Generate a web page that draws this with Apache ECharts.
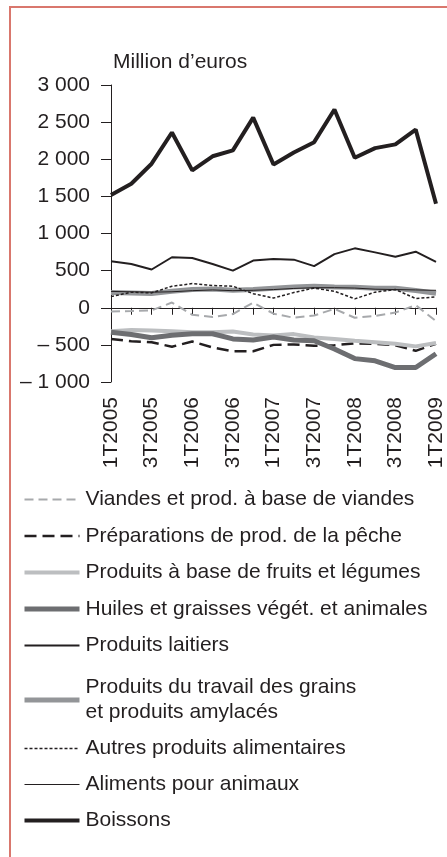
<!DOCTYPE html>
<html>
<head>
<meta charset="utf-8">
<script src="https://cdn.jsdelivr.net/npm/echarts@6/dist/echarts.min.js"></script>
<style>
html,body{margin:0;padding:0;background:#fff;}
#c{width:447px;height:857px;}
</style>
</head>
<body>
<div id="c"></div>
<script>
var categories = ['1T2005','2T2005','3T2005','4T2005','1T2006','2T2006','3T2006','4T2006','1T2007','2T2007','3T2007','4T2007','1T2008','2T2008','3T2008','4T2008','1T2009'];
var viandes = [-50,-45,-35,70,-95,-125,-85,70,-80,-135,-105,-15,-135,-110,-65,35,-180];
var peche = [-420,-450,-465,-525,-455,-535,-585,-585,-500,-495,-512,-505,-480,-485,-505,-580,-485];
var fruits = [-315,-300,-305,-315,-330,-330,-320,-360,-375,-355,-400,-420,-445,-465,-485,-520,-475];
var huiles = [-330,-360,-405,-370,-350,-350,-420,-435,-395,-435,-445,-555,-685,-715,-805,-805,-620];
var laitiers = [625,590,515,680,670,590,500,635,655,648,560,722,800,746,686,755,617];
var grains = [205,200,192,222,245,254,237,245,263,281,290,281,277,263,263,232,195];
var autres = [150,210,200,290,325,300,290,190,130,205,265,222,120,210,245,125,145];
var aliments = [220,215,210,215,230,240,230,235,245,260,270,270,265,250,245,240,235];
var boissons = [1520,1670,1940,2360,1850,2040,2120,2560,1930,2090,2230,2670,2020,2150,2200,2400,1400];
var seriesNames = ['Viandes et prod. à base de viandes','Préparations de prod. de la pêche','Produits à base de fruits et légumes','Huiles et graisses végét. et animales','Produits laitiers','Produits du travail des grains\net produits amylacés','Autres produits alimentaires','Aliments pour animaux','Boissons'];
var yMin = -1000, yMax = 3000, yStep = 500;

var BLACK = '#231f20';
var FONT = 'Liberation Sans, Arial, sans-serif';
function fmt(v){
  var a = Math.abs(v), s = String(a);
  if (a >= 1000) s = Math.floor(a/1000) + ' ' + String(a%1000).padStart(3,'0');
  return v < 0 ? '\u2013 ' + s : s;
}
var styles = [
  {color:'#a7a9ac', width:2, type:[9,5]},
  {color:BLACK, width:2.5, type:[12,6]},
  {color:'#bcbec0', width:4, type:'solid'},
  {color:'#6d6e71', width:5, type:'solid'},
  {color:BLACK, width:2, type:'solid'},
  {color:'#939598', width:5, type:'solid'},
  {color:BLACK, width:1.5, type:[3,2]},
  {color:BLACK, width:1, type:'solid'},
  {color:BLACK, width:4, type:'solid'}
];
var datas = [viandes, peche, fruits, huiles, laitiers, grains, autres, aliments, boissons];
var series = datas.map(function(d,i){
  return {
    name: seriesNames[i], type:'line', data:d, symbol:'none', xAxisIndex:0, yAxisIndex:0,
    lineStyle:{color:styles[i].color, width:styles[i].width, type:styles[i].type},
    itemStyle:{color:styles[i].color}, animation:false, z: 2+i
  };
});
function legendItems(from, to){
  var out = [];
  for (var i = from; i < to; i++) {
    out.push({name:seriesNames[i],
      itemStyle:{opacity:0, borderWidth:0, color:'rgba(0,0,0,0)'},
      lineStyle:{color:styles[i].color, width:styles[i].width, type:styles[i].type, opacity:1}});
  }
  return out;
}
var legendText = {fontSize:21, color:BLACK, fontFamily:FONT, lineHeight:25, padding:[0,0,0,1]};
var chart = echarts.init(document.getElementById('c'), null, {renderer:'canvas'});
chart.setOption({
  backgroundColor:'#fff',
  animation:false,
  graphic:[{type:'rect', shape:{x:10,y:7,width:480,height:900}, style:{fill:null, stroke:'#d9776d', lineWidth:2}, silent:true}],
  title:{text:'Million d\u2019euros', left:108, top:47, textStyle:{fontSize:21, fontWeight:'normal', color:BLACK, fontFamily:FONT}},
  grid:{left:111, right:11, top:85, bottom:475, containLabel:false},
  legend:[
    {data:legendItems(0,5), orient:'vertical', left:17, top:482, itemWidth:55, itemHeight:14, itemGap:11.5, textStyle:legendText, selectedMode:false},
    {data:legendItems(5,9), orient:'vertical', left:17, top:670, itemWidth:55, itemHeight:14, itemGap:11, textStyle:legendText, selectedMode:false}
  ],
  xAxis:[
    {type:'category', data:categories, boundaryGap:false,
     axisLine:{onZero:true, lineStyle:{color:BLACK, width:1}},
     axisTick:{show:true, interval:0, length:7, lineStyle:{color:BLACK}},
     axisLabel:{show:false}, splitLine:{show:false}},
    {type:'category', data:categories, boundaryGap:false, position:'bottom',
     axisLine:{show:false, onZero:false}, axisTick:{show:false},
     axisLabel:{show:true, interval:1, rotate:90, margin:15, fontSize:21, color:BLACK, fontFamily:FONT},
     splitLine:{show:false}}
  ],
  yAxis:{type:'value', min:yMin, max:yMax, interval:yStep,
    axisLine:{show:true, lineStyle:{color:BLACK, width:1}},
    axisTick:{show:true, length:10, lineStyle:{color:BLACK}},
    axisLabel:{formatter:fmt, fontSize:21, color:BLACK, fontFamily:FONT, margin:21},
    splitLine:{show:false}},
  series:series
});
</script>
</body>
</html>
